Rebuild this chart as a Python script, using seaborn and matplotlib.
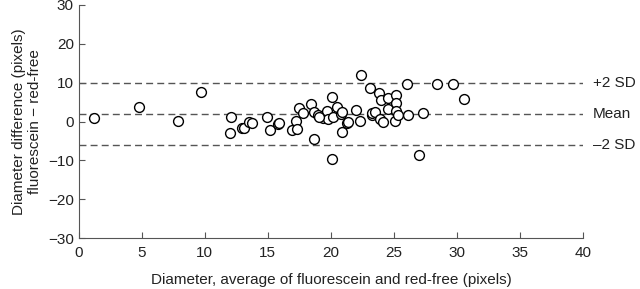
import pandas as pd
import matplotlib
matplotlib.use('Agg')
import matplotlib.pyplot as plt
import seaborn as sns

# average diameter (x) and difference (y)
avg_diameter = [1.2, 4.8, 7.9, 9.7, 12.1, 12.0, 12.96, 13.1, 13.5, 13.75,
                14.9, 15.15, 15.8, 15.9, 16.9, 17.2, 17.3, 17.5, 17.75, 18.45,
                18.7, 18.65, 19.0, 19.4, 19.7, 19.8, 20.1, 20.1, 20.45, 20.2,
                20.85, 20.8, 20.9, 21.3, 22.0, 22.4, 22.3, 23.1, 23.25, 23.3,
                23.5, 23.8, 23.95, 23.9, 24.1, 24.55, 24.5, 25.15, 25.2, 25.15,
                25.05, 25.3, 26.05, 28.4, 29.7, 30.55, 26.15, 27.3, 27.0, 19.05,
                21.35]
diff = [0.8, 3.8, 0.1, 7.7, 1.2, -3.0, -1.7, -1.6, -0.1, -0.5,
        1.2, -2.1, -0.7, -0.5, -2.2, 0.1, -1.9, 3.6, 2.3, 4.6,
        -4.4, 2.4, 1.7, 0.8, 2.8, 0.6, 6.2, -9.7, 3.8, 1.2,
        -2.6, 1.9, 2.5, -0.4, 2.9, 12.0, 0.2, 8.5, 1.7, 2.1,
        2.5, 7.3, 5.5, 0.6, 0.0, 6.0, 3.1, 6.9, 4.7, 2.8,
        0.2, 1.7, 9.6, 9.7, 9.7, 5.8, 1.6, 2.3, -8.5, 1.2,
        -0.2]

mean_diff = 1.9
upper_sd = 10.0
lower_sd = -6.1

df = pd.DataFrame({'avg': avg_diameter, 'diff': diff})

sns.set_style('ticks')
plt.rcParams['font.family'] = ['Liberation Sans', 'DejaVu Sans']

fig = plt.figure(figsize=(6.4, 2.89), dpi=100)
ax = fig.add_axes([0.123, 0.176, 0.788, 0.807])

for yv, lab in [(upper_sd, '+2 SD'), (mean_diff, 'Mean'), (lower_sd, '\u20132 SD')]:
    ax.axhline(yv, color='#555555', lw=1, ls=(0, (5, 3)), zorder=1)
    ax.text(40.8, yv, lab, va='center', ha='left', fontsize=11, color='#222222')

sns.scatterplot(data=df, x='avg', y='diff', ax=ax, marker='o', s=50,
                facecolor='white', edgecolor='black', linewidth=1, zorder=3)

ax.set(xlim=(0, 40), ylim=(-30, 30))
ax.set_xticks(range(0, 41, 5))
ax.set_yticks(range(-30, 31, 10))
ax.set_yticklabels(['\u221230', '\u221220', '\u221210', '0', '10', '20', '30'])
ax.tick_params(direction='in', length=4, color='#555555', labelsize=11,
               labelcolor='#222222')
ax.tick_params(axis='x', pad=6)
ax.set_xlabel('Diameter, average of fluorescein and red-free (pixels)',
              fontsize=11, color='#222222', labelpad=9)
ax.set_ylabel('Diameter difference (pixels)\nfluorescein \u2212 red-free',
              fontsize=11, color='#222222', labelpad=4)
sns.despine(ax=ax)
for sp in ['left', 'bottom']:
    ax.spines[sp].set_color('#555555')

fig.savefig('out.png', dpi=100)
